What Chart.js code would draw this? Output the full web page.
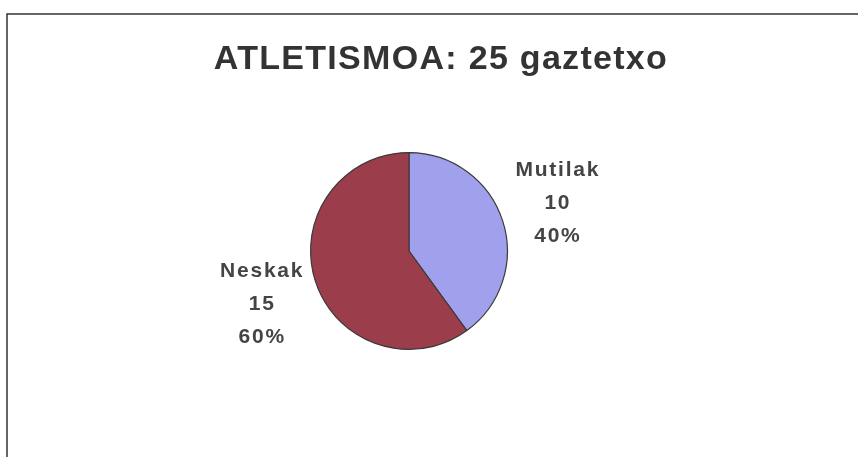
<!DOCTYPE html>
<html>
<head>
<meta charset="utf-8">
<script src="https://cdn.jsdelivr.net/npm/chart.js@4"></script>
<style>
  html, body { margin: 0; padding: 0; background: #fff; }
  #wrap { width: 858px; height: 457px; position: relative; }
</style>
</head>
<body>
<div id="wrap"><canvas id="pieChart" width="858" height="457"></canvas></div>
<script>
// Chart data
const chartTitle = 'ATLETISMOA: 25 gaztetxo';
const categories = ['Mutilak', 'Neskak'];
const counts = [10, 15];
const sliceColors = ['#a0a0ec', '#9c3d4c'];

const total = counts.reduce((a, b) => a + b, 0);

// frame lines (top + left, like the scanned page)
const framePlugin = {
    id: 'frame',
    beforeDraw(chart) {
        const c = chart.ctx;
        c.save();
        c.strokeStyle = '#333';
        c.lineWidth = 1.5;
        c.beginPath();
        c.moveTo(858, 14);
        c.lineTo(7, 14);
        c.lineTo(7, 457);
        c.stroke();
        c.restore();
    }
};

// title drawn manually for exact placement
const titlePlugin = {
    id: 'bigTitle',
    afterDraw(chart) {
        const c = chart.ctx;
        c.save();
        c.font = 'bold 34px "Liberation Sans", Arial, sans-serif';
        c.letterSpacing = '1.3px';
        c.fillStyle = '#333';
        c.textAlign = 'center';
        c.textBaseline = 'alphabetic';
        c.fillText(chartTitle, 441, 69);
        c.restore();
    }
};

// outside labels: name, value, percent
const labelDist = 1.58;
const labelNudgeY = [0, 5];
const sliceLabels = {
    id: 'sliceLabels',
    afterDatasetsDraw(chart) {
        const c = chart.ctx;
        const meta = chart.getDatasetMeta(0);
        c.save();
        c.font = 'bold 21px "Liberation Sans", Arial, sans-serif';
        c.letterSpacing = '1.8px';
        c.fillStyle = '#444';
        c.textAlign = 'center';
        c.textBaseline = 'middle';
        meta.data.forEach((arc, i) => {
            const mid = (arc.startAngle + arc.endAngle) / 2;
            const r = arc.outerRadius * labelDist;
            const x = arc.x + Math.cos(mid) * r + 1;
            const y = arc.y + Math.sin(mid) * r + labelNudgeY[i];
            const pct = Math.round(counts[i] / total * 100) + '%';
            c.fillText(categories[i], x, y - 33);
            c.fillText(String(counts[i]), x, y);
            c.fillText(pct, x, y + 33);
        });
        c.restore();
    }
};

const ctx = document.getElementById('pieChart').getContext('2d');
const pieChart = new Chart(ctx, {
    type: 'pie',
    data: {
        labels: categories,
        datasets: [{
            data: counts,
            backgroundColor: sliceColors,
            borderColor: '#3a3a3a',
            borderWidth: 1.2
        }]
    },
    options: {
        responsive: false,
        animation: false,
        layout: {
            padding: { top: 152, bottom: 107, left: 310, right: 350 }
        },
        plugins: {
            legend: { display: false },
            title: { display: false },
            tooltip: { enabled: false }
        }
    },
    plugins: [framePlugin, titlePlugin, sliceLabels]
});
</script>
</body>
</html>
